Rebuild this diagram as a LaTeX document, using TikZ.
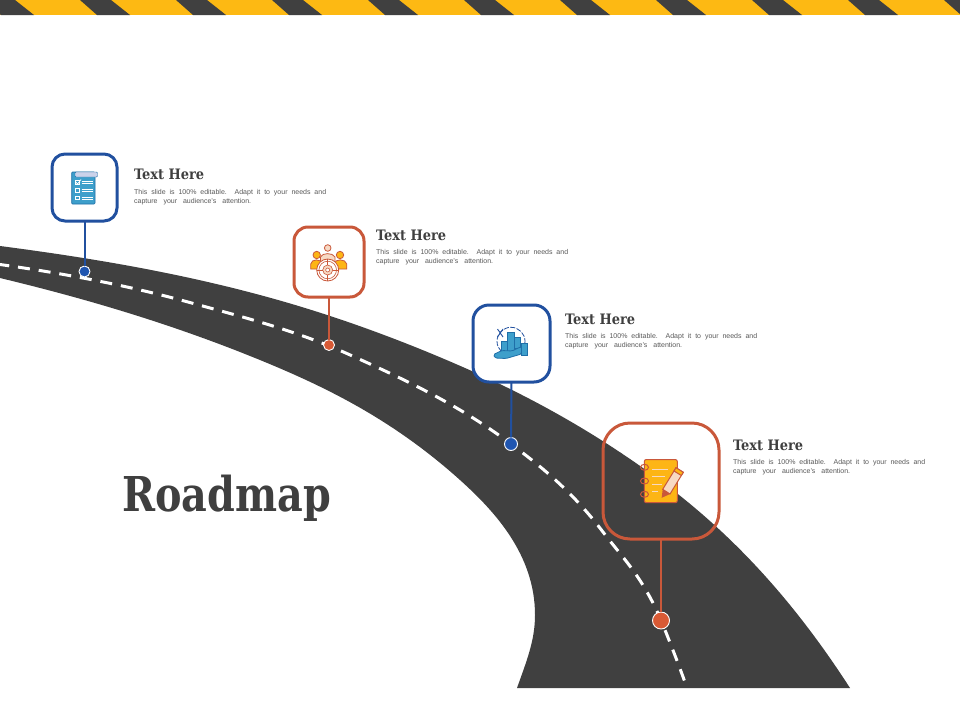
\documentclass[tikz,border=0pt]{standalone}
\usepackage{fontspec}
\setmainfont{Liberation Sans}
\newfontfamily\headfont{DejaVu Serif Condensed}
\newfontfamily\titlefont[FakeStretch=0.92]{DejaVu Serif Condensed}
\definecolor{roadc}{HTML}{404040}
\definecolor{txtc}{HTML}{3F3F3F}
\definecolor{bodyc}{HTML}{595959}
\definecolor{bandy}{HTML}{FDB913}
\definecolor{pinb}{HTML}{21509F}
\definecolor{pino}{HTML}{C9583A}
\definecolor{dotb}{HTML}{1F55B0}
\definecolor{doto}{HTML}{D85A35}
\definecolor{iconb}{HTML}{3E9FCB}
\definecolor{icond}{HTML}{1F6FA8}
\definecolor{icony}{HTML}{FDB515}
\definecolor{iconp}{HTML}{F7D9C4}
\definecolor{iconl}{HTML}{CBD2EA}
\tikzset{
  x=1pt,y=-1pt,
  pinbox/.style={draw,rounded corners=#1,inner sep=0pt,outer sep=0pt,line width=3pt},
  pindot/.style={circle,draw=white,line width=.9pt,inner sep=0pt,outer sep=0pt},
  pinline/.style={line width=2pt},
  headtext/.style={anchor=base west,inner sep=0pt,font=\headfont\bfseries\fontsize{14.4}{16}\selectfont,text=txtc},
  bodytext/.style={anchor=north west,inner sep=0pt,align=left,font=\fontsize{7}{9}\selectfont,text=bodyc},
}
\newcommand{\captiontext}{\hbox to 192pt{This slide is 100\% editable.\ \ Adapt it to your needs and}\\\hbox to 117pt{capture your audience's attention.}}
\begin{document}
\begin{tikzpicture}
\useasboundingbox (0,0) rectangle (960,720);
\fill[white] (0,0) rectangle (960,720);
% hazard band
\begin{scope}
\clip (0,0) rectangle (960,15);
\fill[bandy] (0,0) rectangle (960,15);
\foreach \k in {-1,...,9}{
  \fill[roadc,xshift=\k*96pt] (80,0) -- (111,0) -- (130,15) -- (97,15) -- cycle;
}
\end{scope}
% road
\fill[roadc] (0,246) .. controls (95,258.4) and (190,274.5) .. (285,302)
  .. controls (345,319.4) and (405,341.6) .. (465,368)
  .. controls (526.7,395.1) and (588.3,428.6) .. (650,473)
  .. controls (716.7,521) and (783.3,584.6) .. (850,688)
  -- (517,688) .. controls (527,660) and (535,640) .. (535,615)
  .. controls (535,555) and (495,511.5) .. (460,480)
  .. controls (393.3,420) and (326.7,387.3) .. (260,360)
  .. controls (173.3,324.5) and (86.7,298.8) .. (0,278) -- cycle;
% centre line
\draw[white,line width=3pt,dash pattern=on 12pt off 8.9pt,dash phase=2.7pt]
  (0,264.5) .. controls (62.7,273.3) and (125.3,284.9) .. (188,302)
  .. controls (241.3,316.6) and (294.7,330) .. (348,354)
  .. controls (402.3,378.5) and (456.7,403.3) .. (511,444)
  .. controls (541.7,467) and (572.3,491.5) .. (603,532)
  .. controls (622.3,557.5) and (641.7,575.6) .. (661,620)
  .. controls (669,640) and (679,665) .. (687,688);
% title
\node[anchor=base west,inner sep=0pt,text=txtc,font=\titlefont\bfseries\fontsize{48}{52}\selectfont] (title) at (122,511) {Roadmap};
% pins
\node[pinbox=13pt,draw=pinb,fill=white,minimum width=65pt,minimum height=67pt] (b1) at (84.5,187.5) {};
\node[pindot,fill=dotb,minimum size=11pt] (d1) at (84.5,271.5) {};
\draw[pinline,pinb] (b1) -- (d1);
\node[pinbox=14pt,draw=pino,fill=white,minimum width=70pt,minimum height=70pt] (b2) at (329,262) {};
\node[pindot,fill=doto,minimum size=11pt] (d2) at (329,345) {};
\draw[pinline,pino] (b2) -- (d2);
\node[pinbox=16pt,draw=pinb,fill=white,minimum width=77pt,minimum height=77pt] (b3) at (511.5,343.5) {};
\node[pindot,fill=dotb,minimum size=13pt] (d3) at (511,444) {};
\draw[pinline,pinb] (b3.south) -- (d3);
\node[pinbox=27pt,draw=pino,minimum width=116pt,minimum height=116pt] (b4) at (661,481) {};
\node[pindot,fill=doto,minimum size=17pt] (d4) at (661,620.5) {};
\draw[pinline,pino] (b4) -- (d4);
% texts
\node[headtext] (h1) at (134,179) {Text Here};
\node[bodytext] (t1) at (134,188.8) {\captiontext};
\node[headtext] (h2) at (376,240) {Text Here};
\node[bodytext] (t2) at (376,249) {\captiontext};
\node[headtext] (h3) at (565,324) {Text Here};
\node[bodytext] (t3) at (565,333) {\captiontext};
\node[headtext] (h4) at (733,450) {Text Here};
\node[bodytext] (t4) at (733,459) {\captiontext};
% icon 1: checklist
\fill[iconb,draw=icond,line width=.7pt,rounded corners=1pt] (71.7,172) rectangle (95,204);
\fill[iconl,draw=icond,line width=.4pt,rounded corners=1pt] (75,172) rectangle (97.5,177);
\foreach \yy in {180.5,188.5,196}{
  \draw[white,line width=.7pt] (75,\yy) rectangle (79,\yy+3.7);
  \draw[white,line width=.6pt] (81.5,\yy+.8) -- (92.5,\yy+.8) (81.5,\yy+2.8) -- (92.5,\yy+2.8);
}
\draw[white,line width=.7pt] (76,182) -- (77.5,184) -- (81,179.5);
% icon 2: team and target
\begin{scope}[draw=pino,line width=.8pt]
\filldraw[fill=iconp] (320.5,266) -- (320.5,257) .. controls (322,252.5) and (333,252.5) .. (335,257) -- (335,266) -- cycle;
\filldraw[fill=iconp] (327.7,248) circle (3.3);
\filldraw[fill=icony] (310.7,269) -- (310.7,264) .. controls (311.5,258.5) and (321,258.5) .. (323,264) -- (323,269) -- cycle;
\filldraw[fill=icony] (316.7,255) circle (3.7);
\filldraw[fill=icony] (334,269) -- (334,264) .. controls (335,258.5) and (345.5,258.5) .. (346.8,264) -- (346.8,269) -- cycle;
\filldraw[fill=icony] (340,255) circle (3.7);
\filldraw[fill=white] (327.7,270) circle (11);
\draw[line width=.6pt] (327.7,270) circle (8.8);
\filldraw[fill=iconp,line width=.6pt] (327.7,270) circle (5);
\filldraw[fill=white,line width=.6pt] (327.7,270) circle (2);
\draw[line width=.6pt] (327.7,259) -- (327.7,265) (327.7,275) -- (327.7,281) (316.7,270) -- (322.7,270) (332.7,270) -- (338.7,270);
\end{scope}
% icon 3: hand with bars
\begin{scope}[draw=icond,line width=.8pt]
\draw[dash pattern=on 5pt off 1.5pt,pinb] (511,341.3) circle (14);
\draw[pinb,line width=.9pt] (497.5,329) -- (503,337) (503,329) -- (497.5,337);
\filldraw[fill=iconb] (501.7,341) rectangle (507.7,351);
\filldraw[fill=iconb] (507.7,332.3) rectangle (514.3,351);
\filldraw[fill=iconb] (514.3,337.3) rectangle (520,348);
\filldraw[fill=iconb] (521.7,343) rectangle (527.7,355.5);
\filldraw[fill=iconb,rounded corners=1.5pt] (493.5,354.5) -- (502,350.5) -- (512,351) -- (521.5,346.5) -- (521.5,354) -- (506,358.5) -- (495,358) -- cycle;
\end{scope}
% icon 4: notebook and pencil
\begin{scope}[draw=pino,line width=1pt]
\filldraw[fill=icony,rounded corners=2pt] (644.3,459.5) rectangle (677.3,502.7);
\draw[iconp,line width=1pt] (652,469) -- (668,469) (652,476.7) -- (665,476.7) (652,484.5) -- (662,484.5) (652,491.7) -- (658,491.7);
\foreach \yy in {467.3,481,494.3}{
  \draw (644.5,\yy) ellipse (4 and 3);
}
\filldraw[fill=iconp] (662.7,489.3) -- (676,467.7) -- (683.3,472.3) -- (670,494) -- cycle;
\filldraw[fill=icony] (676,467.7) -- (683.3,472.3) -- (681.3,475.5) -- (674,471) -- cycle;
\fill[pino] (662.7,489.3) -- (670,494) -- (661.7,497.8) -- cycle;
\end{scope}
\end{tikzpicture}
\end{document}
